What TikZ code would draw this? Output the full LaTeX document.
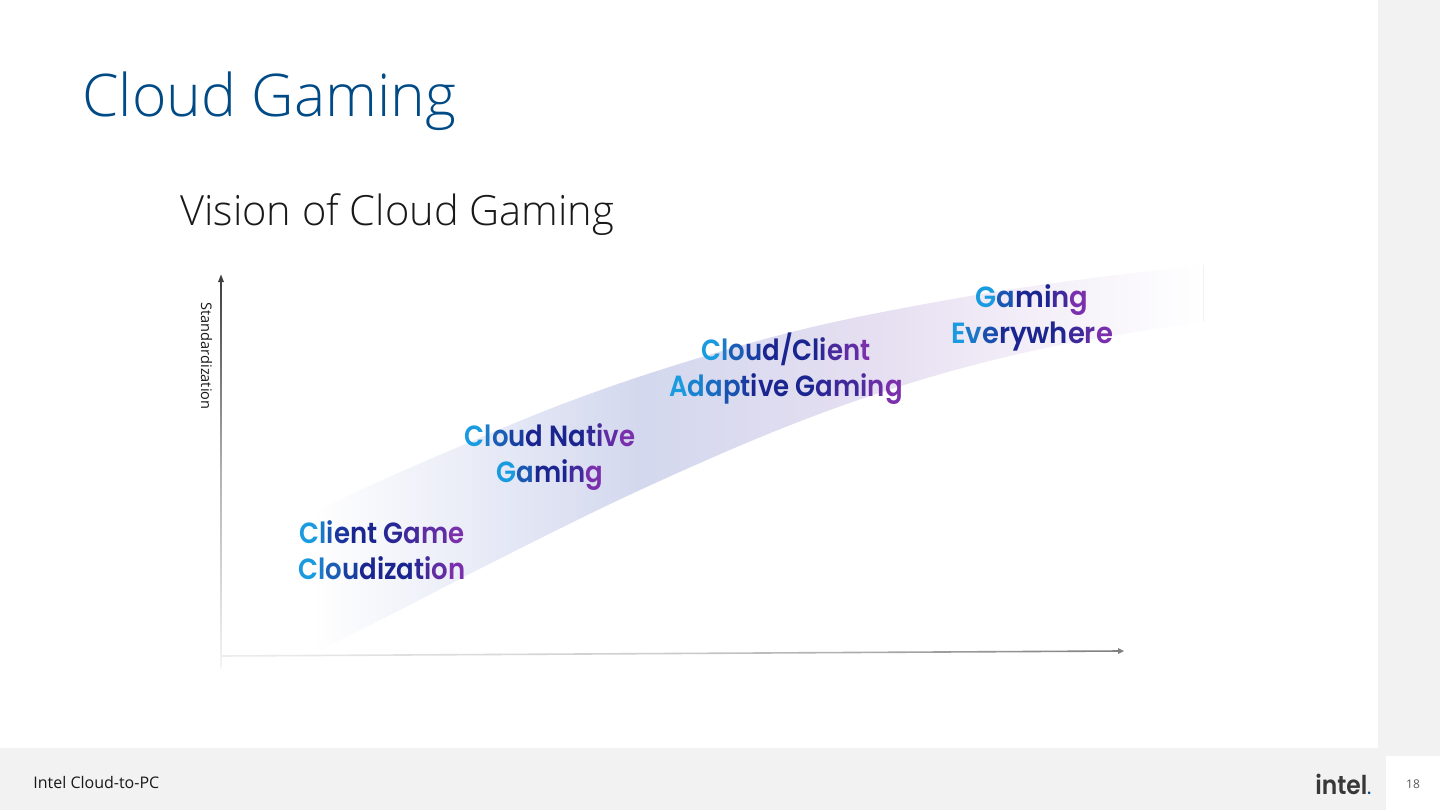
\documentclass[tikz,border=0pt]{standalone}
\usepackage{fontspec}
\setmainfont{Open Sans}
\newfontfamily\lightf{Open Sans Light}
\newfontfamily\labf{Poppins SemiBold}[FakeStretch=0.89]
\newfontfamily\labwide{Poppins SemiBold}[FakeStretch=0.94]
\newfontfamily\logof{Poppins SemiBold}[FakeStretch=0.9]
\usetikzlibrary{arrows.meta}
\definecolor{gblue}{HTML}{1A9BE0}
\definecolor{gnavy}{HTML}{1A2590}
\definecolor{gpurp}{HTML}{7A30AC}
\definecolor{panel}{HTML}{F2F2F2}
\definecolor{titleblue}{HTML}{004A86}
\definecolor{bandA}{HTML}{D3D8EE}
\definecolor{bandB}{HTML}{E6DFF1}
\definecolor{bandC}{HTML}{F1EBF7}
\pgfdeclarehorizontalshading{bandshade}{100bp}{
  color(0bp)=(white);
  color(26.5bp)=(white);
  color(44.3bp)=(bandA);
  color(57.4bp)=(bandB);
  color(64bp)=(bandC);
  color(75bp)=(white);
  color(100bp)=(white)}
\makeatletter
\newcount\gt@n \newcount\gt@i
\newcommand{\gradline}[1]{%
  \gt@n=0\relax
  \@tfor\gt@x:=#1\do{\advance\gt@n by 1\relax}%
  \gt@i=0\relax
  \@tfor\gt@x:=#1\do{%
    \pgfmathsetmacro\gt@t{\the\gt@i/max(\the\gt@n-1,1)}%
    \pgfmathsetmacro\gt@a{\gt@t<0.35?100*\gt@t/0.35:100}%
    \pgfmathsetmacro\gt@b{\gt@t>0.65?100*(\gt@t-0.65)/0.35:0}%
    \ifdim\gt@t pt<0.65pt
      \textcolor{gnavy!\gt@a!gblue}{\gt@x}%
    \else
      \textcolor{gpurp!\gt@b!gnavy}{\gt@x}%
    \fi
    \advance\gt@i by 1\relax}}
\makeatother
\tikzset{
  x=0.5pt,y=-0.5pt,
  lab/.style={align=center,inner sep=0pt,font=\labf\fontsize{14.6}{18}\selectfont},
  plain/.style={inner sep=0pt,anchor=base west}
}
\begin{document}
\begin{tikzpicture}
\useasboundingbox (0,0) rectangle (1440,810);
\fill[white] (0,0) rectangle (1440,810);
% panels
\fill[panel] (1378,0) rectangle (1440,756);
\fill[panel] (0,748) rectangle (1386,810);
\fill[panel] (1378,748) rectangle (1386,756);
% band
\begin{scope}
\clip plot[smooth,tension=0.6] coordinates {(285,527) (367,487) (463,445) (560,405) (660,370) (780,335) (893,310) (1040,285) (1203,265)}
  -- plot[smooth,tension=0.6] coordinates {(1203,322) (1060,345) (927,378) (793,424) (640,490) (497,560) (400,610) (320,650)} -- cycle;
\shade[shading=bandshade] (285,260) rectangle (1203,660);
\end{scope}
\draw[black!5,line width=0.3pt] (1203,265) -- (1203,322);
% axes
\coordinate (yb) at (221,668);
\coordinate (yt) at (221,281);
\coordinate (xl) at (221,656);
\coordinate (xr) at (1119,651);
\shade[top color=black!75,bottom color=black!4,middle color=black!30] (220.3,281) rectangle (221.7,668);
\shade[left color=black!7,right color=black!50,middle color=black!20] (221,655.2) -- (1119,650.2) -- (1119,651.8) -- (221,656.8) -- cycle;
\fill[black!75] (218,282) -- (221,274.5) -- (224,282) -- cycle;
\fill[black!50] (1118,648) -- (1124,651) -- (1118,654) -- cycle;
% title
\node[plain,text=titleblue,font=\lightf\fontsize{29.4}{32}\selectfont] (title) at (82,116) {Cloud Gaming};
\node[plain,text=black!90,font=\lightf\fontsize{20.8}{26}\selectfont] (subtitle) at (180,225) {Vision of Cloud Gaming};
\node[inner sep=0pt,rotate=-90,text=black!90,font=\fontsize{7.3}{9}\selectfont] (ylab) at (206.5,356) {Standardization};
% labels
\node[lab] (l1) at (382,550) {\gradline{Client\ Game}\\[0pt]\gradline{Cloudization}};
\node[lab] (l2) at (550,457) {\gradline{Cloud\ Native}\\[0pt]\gradline{Gaming}};
\node[lab] (l3) at (786,369) {\gradline{Cloud/Client}\\[0pt]\gradline{Adaptive\ Gaming}};
\node[lab,font=\labwide\fontsize{14.6}{18}\selectfont] (l4) at (1032,318) {\gradline{Gaming}\\[0pt]\gradline{Everywhere}};
% footer
\node[plain,text=black!90,font=\fontsize{8}{9}\selectfont] (foot) at (33,788) {Intel Cloud-to-PC};
\node[inner sep=0pt,text=black!65,font=\fontsize{6}{7}\selectfont] (page) at (1413,784) {18};
\node[plain,text=black!78,font=\logof\fontsize{13}{14}\selectfont] (logo) at (1315,794.5) {intel\textcolor{titleblue}{\fontsize{8}{8}\selectfont .}};
\end{tikzpicture}
\end{document}
